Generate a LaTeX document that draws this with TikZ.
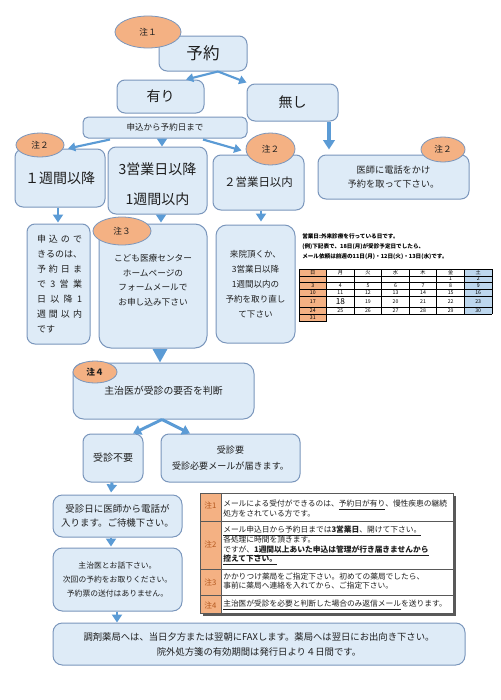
\documentclass[tikz,border=0pt]{standalone}
\usepackage{fontspec}
\setmainfont{Noto Sans CJK JP}
\usetikzlibrary{arrows.meta,shapes.geometric,calc}
\definecolor{boxfill}{HTML}{DEEBF7}
\definecolor{boxline}{HTML}{7A96BC}
\definecolor{notefill}{HTML}{F4B183}
\definecolor{arrowc}{HTML}{5B9BD5}
\definecolor{satfill}{HTML}{BDD7EE}
\definecolor{txtc}{HTML}{1E1E1E}
\definecolor{notetxt}{HTML}{B4581E}
\newcommand\fsz[2]{\fontsize{#1pt}{#2pt}\selectfont}
\newcommand\sline[1]{\makebox[33.75pt][s]{#1}}
% box by corner pixels: [options]{name}{x1}{y1}{x2}{y2}{text}
\newcommand\bx[7][]{\node[box,#1,minimum width={(#5-#3)*0.75pt},minimum height={(#6-#4)*0.75pt}] (#2) at ({(#3+#5)/2},{(#4+#6)/2}) {#7};}
\tikzset{
  box/.style={draw=boxline, fill=boxfill, line width=0.75pt, rounded corners=5pt, inner sep=0pt, text=txtc, align=center},
  boxtext/.style={align=center, inner sep=0pt, text=txtc},
  notelbl/.style={ellipse, draw=boxline, fill=notefill, line width=0.6pt, inner sep=0pt, text=txtc, font=\fsz{6.5}{8}},
  arr/.style={draw=arrowc, line width=2.2pt, -{Triangle[width=7.5pt,length=6pt]}},
  arrthin/.style={draw=arrowc, line width=1.6pt, -{Triangle[width=6.5pt,length=5.5pt]}},
  arrbig/.style={draw=arrowc, line width=2.6pt, -{Triangle[width=8.5pt,length=7pt]}},
  calline/.style={draw=black, line width=0.7pt},
  calt/.style={inner sep=0pt, font=\fsz{3.9}{4}, text=black},
  tabt/.style={inner sep=0pt, anchor=west, font=\fsz{5.8}{7}, text=txtc},
  tablbl/.style={inner sep=0pt, font=\fsz{5.8}{7}, text=notetxt},
  caltxt/.style={inner sep=0pt, anchor=west, font=\bfseries\fsz{4.2}{5}, text=black},
}
\begin{document}
\begin{tikzpicture}[x=0.75pt,y=-0.75pt]
\useasboundingbox (0,0) rectangle (500,700);
\fill[white] (0,0) rectangle (500,700);

% boxes
\bx[rounded corners=6pt, font=\fsz{12.4}{14}]{yoyaku}{159}{36}{247}{71}{予約}
\bx[rounded corners=6pt, font=\fsz{10.5}{12}]{ari}{117}{80}{204}{113}{有り}
\bx[rounded corners=6pt, font=\fsz{10.5}{12}]{nashi}{247}{84}{338}{121}{無し}
\bx[rounded corners=4pt, font=\fsz{6.4}{8}]{moushi}{83}{117}{247}{138}{申込から予約日まで}
\bx[rounded corners=6pt, font=\fsz{10.5}{12}]{ikou1}{15}{149}{105}{207}{１週間以降}
\bx[rounded corners=6pt]{eigyo3}{108}{147}{207}{214}{}
\node[boxtext, font=\fsz{10.5}{22.5}] (eigyo3T) at (157.5,184) {3営業日以降\\1週間以内};
\bx[rounded corners=6pt, font=\fsz{8.6}{10}]{eigyo2}{213}{155}{304}{210}{２営業日以内}
\bx[rounded corners=6pt, font=\fsz{6.9}{10.5}]{ishi}{318}{155}{469}{199}{医師に電話をかけ\\予約を取って下さい。}
\bx[rounded corners=6pt]{b1}{27}{224}{90}{344}{}
\node[boxtext, font=\fsz{6.75}{11.25}] (b1T) at (59.5,283.5)
  {\sline{申\hfil 込\hfil の\hfil で}\\
   \sline{き\hfil る\hfil の\hfil は\hfil 、}\\
   \sline{予\hfil 約\hfil 日\hfil ま}\\
   \sline{で\hfil 3\hfil 営\hfil 業}\\
   \sline{日\hfil 以\hfil 降\hfil 1}\\
   \sline{週\hfil 間\hfil 以\hfil 内}\\
   \makebox[33.75pt][l]{です}};
\bx[rounded corners=9pt]{kodomo}{99}{224}{207}{348}{}
\node[boxtext, font=\fsz{6.5}{10.9}] (kodomoT) at (153,280)
  {こども医療センター\\ホームページの\\フォームメールで\\お申し込み下さい};
\bx[rounded corners=8pt, font=\fsz{6.4}{11.25}]{raiin}{216}{225}{295}{343}{来院頂くか、\\3営業日以降\\1週間以内の\\予約を取り直し\\て下さい}
\bx[rounded corners=8pt, font=\fsz{7.4}{9}]{shuji}{73}{363}{254}{419}{主治医が受診の要否を判断}
\bx[rounded corners=6pt, font=\fsz{7.5}{9}]{fuyou}{83}{434}{143}{482}{受診不要}
\bx[rounded corners=6pt, font=\fsz{6.8}{12}]{you}{161}{434}{300}{482}{受診要\\受診必要メールが届きます。}
\bx[rounded corners=7pt, font=\fsz{7.1}{10.5}]{denwa}{53}{495}{182}{537}{受診日に医師から電話が\\入ります。ご待機下さい。}
\bx[rounded corners=7pt, font=\fsz{5.85}{10.5}]{ohanashi}{53}{548}{182}{611}{主治医とお話下さい。\\次回の予約をお取りください。\\予約票の送付はありません。}
\bx[rounded corners=7pt, font=\fsz{7}{11.25}]{bottom}{53}{623}{465}{665}{調剤薬局へは、当日夕方または翌朝にFAXします。薬局へは翌日にお出向き下さい。\\院外処方箋の有効期間は発行日より４日間です。}

% arrows
\draw[arrthin] ($(yoyaku.south)+(15,0)$) -- ($(ari.north)+(25.5,0)$);
\draw[arrthin] ($(yoyaku.south)+(15,0)$) -- ($(nashi.north west)+(0,-1)$);
\draw[arrbig] ($(nashi.south)+(36.5,0)$) -- ($(ishi.north)+(-64.5,-5)$);
\draw[arrthin] ($(moushi.south)+(-55,1)$) -- ($(ikou1.north)+(8,0)$);
\draw[arr] ($(moushi.south)+(-3,0)$) -- ($(eigyo3.north)+(4.5,0)$);
\draw[arrthin] ($(moushi.south)+(38,1)$) -- ($(eigyo2.north west)+(29,-4)$);
\draw[arr] ($(ikou1.south)+(-2,0)$) -- ($(b1.north)+(-0.5,-1)$);
\draw[arr] ($(eigyo3.south)+(3.5,0)$) -- ($(kodomo.north)+(8,-1)$);
\draw[arr] ($(eigyo2.south)+(2.5,0)$) -- ($(raiin.north)+(5.5,-3)$);
\draw[draw=arrowc, line width=2pt, -{Triangle[width=10.5pt,length=10pt]}] ($(kodomo.south)+(7,0)$) -- ($(shuji.north)+(-3.5,0)$);
\draw[arr] ($(shuji.south)+(-1.5,0)$) -- ($(fuyou.north)+(20,0)$);
\draw[arr] ($(shuji.south)+(-1.5,0)$) -- ($(you.north)+(-40.5,0)$);
\draw[arr] ($(fuyou.south)+(-1,0)$) -- ($(denwa.north)+(-6.5,-2)$);
\draw[arr] ($(denwa.south)+(-6.5,0)$) -- ($(ohanashi.north)+(-6.5,-1)$);
\draw[arr] ($(ohanashi.south)+(-0.5,0)$) -- ($(bottom.north)+(-142,0)$);

% calendar
\node[caltxt] (ct1) at (302,236) {営業日:外来診療を行っている日です。};
\node[caltxt] (ct2) at (302,247) {(例)下記表で、18日(月)が受診予定日でしたら、};
\node[caltxt] (ct3) at (302,257) {メール依頼は前週の11日(月)・12日(火)・13日(水)です。};
\fill[notefill] (299,269) rectangle (327,321);
\fill[satfill] (464,269) rectangle (492,314);
\foreach \y in {269,276,282,289,296,307,314} \draw[calline] (299,\y) -- (492,\y);
\draw[calline] (299,321) -- (327,321);
\foreach \i in {0,...,7} \draw[calline] ({299+27.57*\i},269) -- ({299+27.57*\i},314);
\draw[calline] (299,314) -- (299,321);
\draw[calline] (326.57,314) -- (326.57,321);
\foreach \t [count=\i from 0] in {日,月,火,水,木,金,土} \node[calt] (ch\i) at ({312.8+27.57*\i},272.5) {\t};
\node[calt] (ca5) at ({312.8+27.57*5},279) {1};
\node[calt] (ca6) at ({312.8+27.57*6},279) {2};
\foreach \n [count=\i from 0] in {3,...,9} \node[calt] (cb\i) at ({312.8+27.57*\i},285.5) {\n};
\foreach \n [count=\i from 0] in {10,...,16} \node[calt] (cc\i) at ({312.8+27.57*\i},292.5) {\n};
\foreach \n [count=\i from 0] in {17,19,20,21,22,23} {
  \pgfmathtruncatemacro\col{\i==0 ? 0 : \i+1}
  \node[calt] (cd\i) at ({312.8+27.57*\col},301.5) {\n};
}
\node[calt, font=\fsz{6.2}{7}] (cd18) at ({312.8+27.57},301.5) {18};
\foreach \n [count=\i from 0] in {24,...,30} \node[calt] (ce\i) at ({312.8+27.57*\i},310.5) {\n};
\node[calt] (cf0) at (312.8,317.5) {31};

% notes table
\fill[black!65] (203,496) rectangle (456,616);
\fill[white] (200,493) rectangle (453,613);
\fill[notefill] (200,493) rectangle (221,613);
\draw[gray!70!black, line width=0.6pt] (200,493) rectangle (453,613);
\foreach \y in {521,569,595} \draw[gray!70!black, line width=0.6pt] (200,\y) -- (453,\y);
\draw[gray!70!black, line width=0.6pt] (221,493) -- (221,613);
\node[tablbl] (l1) at (210.5,505) {注1};
\node[tablbl] (l2) at (210.5,544) {注2};
\node[tablbl] (l3) at (210.5,582) {注3};
\node[tablbl] (l4) at (210.5,605) {注4};
\node[tabt] (t1a) at (223,505) {メールによる受付ができるのは、\underline{予約日が有り}、慢性疾患の継続};
\node[tabt] (t1b) at (223,514) {処方をされている方です。};
\node[tabt] (t2a) at (223,531) {\underline{メール申込日から予約日までは{\bfseries 3営業日}、開けて下さい。}};
\node[tabt] (t2b) at (223,540) {各処理に時間を頂きます。};
\node[tabt] (t2c) at (223,551) {ですが、\underline{\bfseries 1週間以上あいた申込は管理が行き届きませんから}};
\node[tabt] (t2d) at (223,560) {\underline{\bfseries 控えて下さい。}};
\node[tabt] (t3a) at (223,577) {かかりつけ薬局をご指定下さい。初めての薬局でしたら、};
\node[tabt] (t3b) at (223,586) {事前に薬局へ連絡を入れてから、ご指定下さい。};
\node[tabt] (t4a) at (223,605) {\underline{主治医が受診を必要と判断した場合のみ返信メール}を送ります。};

% note ellipses
\node[notelbl, minimum width=49.5pt, minimum height=24pt] (n1) at (148,32) {注１};
\node[notelbl, minimum width=36pt, minimum height=18pt] (n2a) at (40,145) {注２};
\node[notelbl, minimum width=36.75pt, minimum height=24pt] (n2b) at (270.5,149) {注２};
\node[notelbl, minimum width=33pt, minimum height=18.75pt] (n2c) at (443,149.5) {注２};
\node[notelbl, minimum width=43.5pt, minimum height=21pt] (n3) at (122,231) {注３};
\node[notelbl, minimum width=33pt, minimum height=16.5pt, font=\bfseries\fsz{6.5}{8}] (n4) at (95,372) {注４};
\end{tikzpicture}
\end{document}
